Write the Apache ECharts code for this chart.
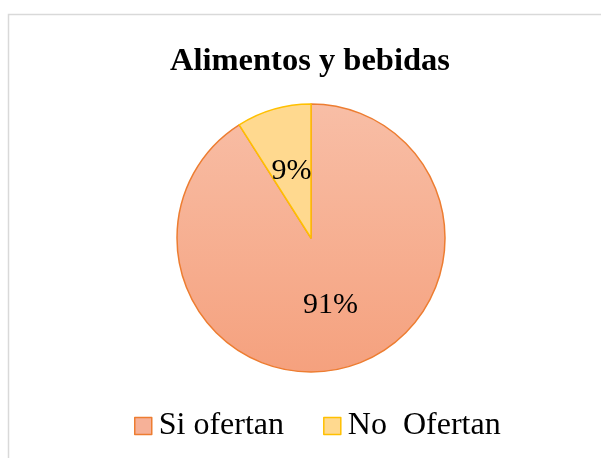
<!DOCTYPE html>
<html>
<head>
<meta charset="utf-8">
<style>
html,body{margin:0;padding:0;background:#fff;}
#chart{width:601px;height:458px;}
</style>
<script src="https://cdn.jsdelivr.net/npm/echarts@6/dist/echarts.min.js"></script>
</head>
<body>
<div id="chart"></div>
<script>
const categories = ['Si ofertan', 'No  Ofertan'];
const values = [91, 9];
const chartTitle = 'Alimentos y bebidas';

const chart = echarts.init(document.getElementById('chart'), null, {renderer: 'canvas'});
const serif = '"Liberation Serif", "Times New Roman", serif';

const styles = [
  {
    color: new echarts.graphic.LinearGradient(0, 104, 0, 372, [
      {offset: 0, color: '#F8BEA6'},
      {offset: 1, color: '#F5A17E'}
    ], true),
    borderColor: '#ED7D31', borderWidth: 1.5
  },
  {color: '#FFD98F', borderColor: '#FFC000', borderWidth: 1.5}
];
const legendStyles = [
  {color: '#F6B198', borderColor: '#ED7D31', borderWidth: 1.5},
  {color: '#FFD98F', borderColor: '#FFC000', borderWidth: 1.5}
];

chart.setOption({
  animation: false,
  graphic: [{
    type: 'rect', silent: true,
    shape: {x: 8.5, y: 14.5, width: 620, height: 480},
    style: {fill: 'none', stroke: '#D9D9D9', lineWidth: 1.5}
  }],
  title: {
    text: chartTitle,
    left: 165, top: 40,
    textStyle: {fontFamily: serif, fontWeight: 'bold', fontSize: 32.5, color: '#000'}
  },
  legend: {
    left: 129, top: 405,
    itemWidth: 17, itemHeight: 17, itemGap: 39,
    icon: 'rect',
    selectedMode: false,
    data: categories.map((c, i) => ({name: c, itemStyle: legendStyles[i]})),
    textStyle: {fontFamily: serif, fontSize: 32, color: '#000', padding: [0, 0, 0, 2]}
  },
  series: [{
    type: 'pie',
    center: [311, 238],
    radius: 134,
    startAngle: 90,
    clockwise: true,
    silent: true,
    label: {
      show: true, position: 'inside',
      formatter: p => Math.round(p.percent) + '%',
      fontFamily: serif, fontSize: 30, color: '#000'
    },
    labelLine: {show: false},
    data: categories.map((c, i) => ({name: c, value: values[i], itemStyle: styles[i]}))
  }]
});
</script>
</body>
</html>
